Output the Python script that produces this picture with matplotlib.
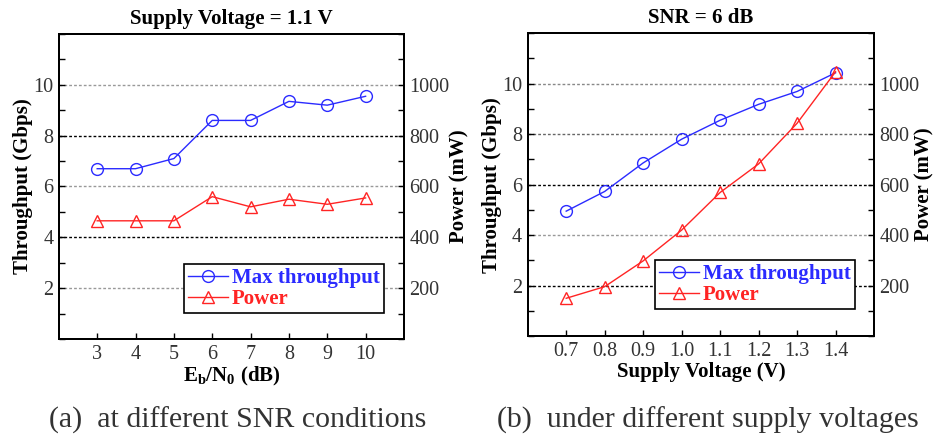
import numpy as np
import matplotlib
matplotlib.use('Agg')
import matplotlib.pyplot as plt
from matplotlib.ticker import MultipleLocator

plt.rc('font', family='Liberation Serif', size=11)
plt.rc('mathtext', fontset='custom', rm='Liberation Serif:bold', bf='Liberation Serif:bold')

# (a) different SNR, supply voltage 1.1 V
snr = [3, 4, 5, 6, 7, 8, 9, 10]
thr_a = [6.7, 6.7, 7.1, 8.6, 8.6, 9.35, 9.2, 9.55]
pow_a = [465, 465, 465, 560, 520, 550, 530, 555]

# (b) different supply voltage, SNR 6 dB
vdd = [0.7, 0.8, 0.9, 1.0, 1.1, 1.2, 1.3, 1.4]
thr_b = [4.95, 5.73, 6.86, 7.8, 8.55, 9.18, 9.69, 10.43]
pow_b = [150, 196, 298, 420, 569, 682, 843, 1047]

blue = '#2b2bff'
red = '#ff2424'

fig = plt.figure(figsize=(9.34, 4.36), dpi=100)


def panel(rect, x, thr, pw, xlim, xticks, xlabels, title, xlabel, caption, grid_cols,
          leg_anchor, rpad):
    ax = fig.add_axes(rect)
    ax2 = ax.twinx()
    ax.set_xlim(*xlim)
    ax.set_ylim(0, 12)
    ax2.set_ylim(0, 1200)
    for lev, c in zip([2, 4, 6, 8, 10], grid_cols):
        ax.axhline(lev, color=c, lw=1.0, ls=(0, (2, 1.5)), zorder=0)
    ax.plot(x, thr, color=blue, lw=1.0, marker='o', ms=8.5, mfc='none', mec=blue, mew=1.0)
    ax2.plot(x, pw, color=red, lw=1.0, marker='^', ms=8.5, mfc='none', mec=red, mew=1.0)
    ax.set_xticks(xticks)
    ax.set_xticklabels(xlabels)
    ax.set_yticks([2, 4, 6, 8, 10])
    ax.yaxis.set_minor_locator(MultipleLocator(1))
    ax2.set_yticks([200, 400, 600, 800, 1000])
    ax2.yaxis.set_minor_locator(MultipleLocator(100))
    for a in (ax, ax2):
        a.tick_params(which='both', direction='in', length=4, width=1, labelsize=14.5,
                      labelcolor='#333333', pad=4)
        for s in a.spines.values():
            s.set_linewidth(1.4)
    ax.tick_params(axis='y', which='both', right=False)
    ax.set_title(title, fontsize=15, fontweight='bold', pad=7)
    ax.set_xlabel(xlabel, fontsize=15, fontweight='bold', labelpad=1)
    ax.set_ylabel('Throughput (Gbps)', fontsize=15, fontweight='bold', labelpad=0)
    ax2.set_ylabel('Power (mW)', fontsize=15, fontweight='bold', labelpad=rpad)
    h1 = ax.get_lines()[-1]
    h2 = ax2.get_lines()[-1]
    leg = ax2.legend([h1, h2], ['Max throughput', 'Power'], loc='lower right',
                     bbox_to_anchor=leg_anchor, fancybox=False, framealpha=1,
                     edgecolor='black', fontsize=15, handlelength=1.9,
                     handletextpad=0.2, borderpad=0.2, labelspacing=0.05,
                     borderaxespad=0)
    leg.get_frame().set_linewidth(1.2)
    for t, c in zip(leg.get_texts(), [blue, red]):
        t.set_color(c)
        t.set_fontweight('bold')
    cx = rect[0] + rect[2] / 2 + 0.007
    fig.text(cx, 0.037, caption, ha='center', va='center', fontsize=21.5, color='#333333')
    return ax


panel([0.063, 0.2225, 0.3695, 0.6995], snr, thr_a, pow_a, (2, 11),
      snr, [str(v) for v in snr], 'Supply Voltage = 1.1 V',
      r'E$_{\mathrm{b}}$/N$_{\mathrm{0}}$ (dB)', '(a)  at different SNR conditions',
      ['#999999', 'black', '#999999', 'black', '#999999'], (0.942, 0.085), 0)

panel([0.565, 0.229, 0.3708, 0.695], vdd, thr_b, pow_b, (0.6, 1.5),
      vdd, ['%.1f' % v for v in vdd], 'SNR = 6 dB',
      'Supply Voltage (V)', '(b)  under different supply voltages',
      ['black', '#999999', 'black', '#666666', '#888888'], (0.945, 0.089), -3.5)

fig.savefig('out.png', dpi=100)
